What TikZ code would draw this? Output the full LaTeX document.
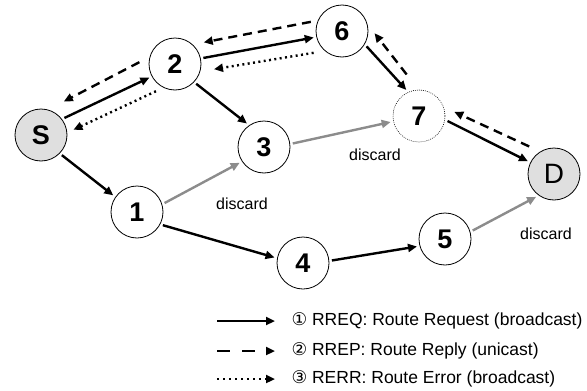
\documentclass[tikz,border=0pt]{standalone}
\usepackage{fontspec}
\setmainfont{Liberation Sans}
\newfontfamily\symfont{DejaVu Sans}
\usetikzlibrary{arrows.meta,calc}

\begin{document}
\begin{tikzpicture}[x=1pt,y=-1pt,
		>={Triangle[length=9pt,width=8pt]},
		relay/.style={circle,draw,line width=0.8pt,minimum size=52pt,inner sep=0pt,outer sep=3pt,font=\fontsize{27}{27}\selectfont\bfseries},
		rreq/.style={->,line width=2.4pt},
		rrep/.style={->,line width=2.4pt,dash pattern=on 9pt off 6pt},
		rerr/.style={->,line width=2.4pt,dash pattern=on 2pt off 3.4pt},
		drop/.style={->,line width=2.4pt,draw=gray!90!white,color=gray!90!white},
		note/.style={font=\fontsize{16}{16}\selectfont},
		key/.style={anchor=west,font=\fontsize{17.5}{17.5}\selectfont}]
		
		\useasboundingbox (0,0) rectangle (587,391);
		
		% nodes
		\node (S) at (41,135) [relay,fill=gray!25] {S};
		\node (D) at (554,174) [relay,fill=gray!25,font=\fontsize{28}{28}\selectfont] {D};
		\foreach \n/\x/\y in {1/137/212, 2/175/64, 3/264/147, 4/303/263, 5/445/239, 6/342/31} {
			\node (n\n) at (\x,\y) [relay] {\n};
		}
		\node (n7) at (419,116) [relay,line width=0.6pt,dash pattern=on 0.8pt off 1.2pt] {7};
		
		\node (d1) at (242,204) [note] {discard};
		\node (d2) at (375,155) [note] {discard};
		\node (d3) at (546,234) [note] {discard};
		
		% RREQ
		\draw[rreq] (S.36) -- (n2.208);
		\draw[rreq] (S.-44) -- (n1.145);
		\draw[rreq] (n2.12) -- (n6.193);
		\draw[rreq] (n2.-43) -- (n3.126);
		\draw[rreq] (n6.-32) -- (n7.116);
		\draw[rreq] (n7.-10) -- (D.154);
		\draw[rreq] (n1.-27) -- (n4.169);
		\draw[rreq] (n4.5) -- (n5.195);
		
		% discarded copies
		\draw[drop] (n1.18) -- (n3.213);
		\draw[drop] (n3.7) -- (n7.192);
		\draw[drop] (n5.17) -- (D.232);
		
		% RREP
		\draw[rrep,shorten <=4pt,shorten >=8pt] (n6.160) -- (n2.44);
		\draw[rrep,shorten <=8pt,shorten >=14pt] (n2.169) -- (S.69);
		\draw[rrep,shorten <=16pt,shorten >=6pt] (n7.95) -- (n6.5);
		\draw[rrep,shorten <=9pt,shorten >=8pt] (D.125) -- (n7.15);
		
		% RERR
		\draw[rerr,shorten <=8pt,shorten >=11pt] (n6.225) -- (n2.-14);
		\draw[rerr,shorten <=5pt,shorten >=4pt] (n2.240) -- (S.7);
		
		% legend
		\node (t1) at (288,321) [key] {{\symfont ①} RREQ: Route Request (broadcast)};
		\node (t2) at (288,351) [key] {{\symfont ②} RREP: Route Reply (unicast)};
		\node (t3) at (288,379) [key] {{\symfont ③} RERR: Route Error (broadcast)};
		\coordinate (k1) at (217,321);
		\coordinate (k2) at (217,351);
		\coordinate (k3) at (217,379);
		\draw[rreq,shorten >=13pt] (k1) -- (t1.west);
		\draw[rrep,dash pattern=on 13pt off 12pt,shorten >=13pt] (k2) -- (t2.west);
		\draw[rerr,dash pattern=on 2pt off 4pt,shorten >=13pt] (k3) -- (t3.west);
		
	\end{tikzpicture}
\end{document}
